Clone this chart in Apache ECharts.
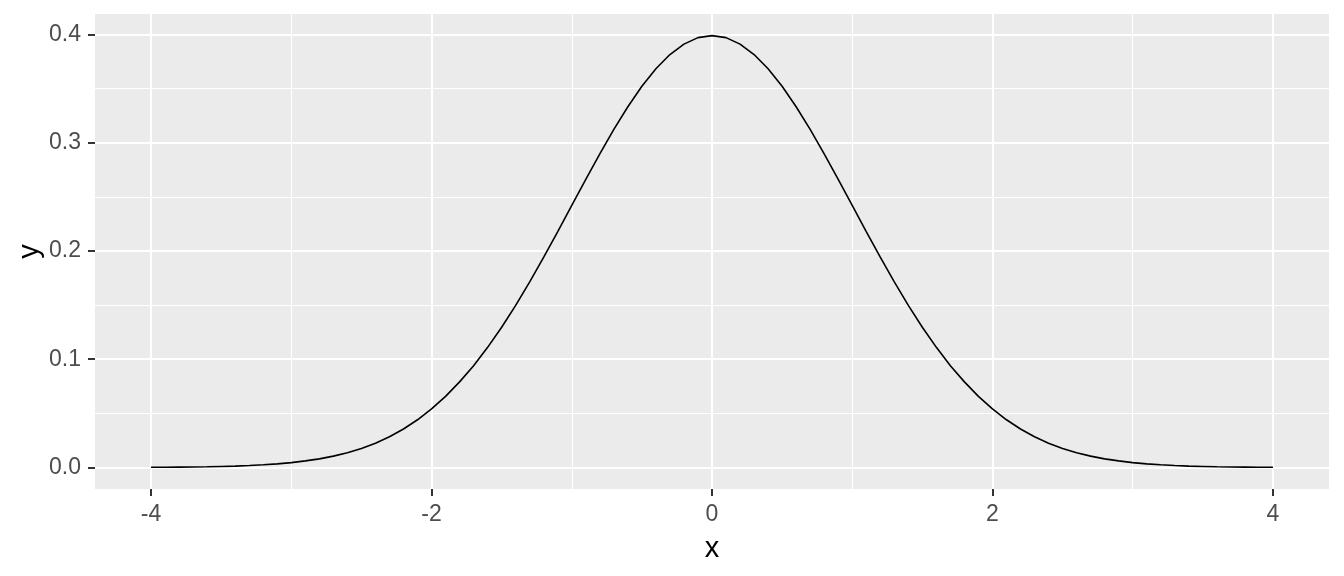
<!DOCTYPE html>
<html>
<head>
<meta charset="utf-8">
<script src="https://cdn.jsdelivr.net/npm/echarts@6/dist/echarts.min.js"></script>
<style>html,body{margin:0;padding:0;background:#fff;}#c{width:1344px;height:576px;}</style>
</head>
<body>
<div id="c"></div>
<script>
// Data (standard normal density curve)
const xValues = [-4.0,-3.9,-3.8,-3.7,-3.6,-3.5,-3.4,-3.3,-3.2,-3.1,-3.0,-2.9,-2.8,-2.7,-2.6,-2.5,-2.4,-2.3,-2.2,-2.1,-2.0,-1.9,-1.8,-1.7,-1.6,-1.5,-1.4,-1.3,-1.2,-1.1,-1.0,-0.9,-0.8,-0.7,-0.6,-0.5,-0.4,-0.3,-0.2,-0.1,0.0,0.1,0.2,0.3,0.4,0.5,0.6,0.7,0.8,0.9,1.0,1.1,1.2,1.3,1.4,1.5,1.6,1.7,1.8,1.9,2.0,2.1,2.2,2.3,2.4,2.5,2.6,2.7,2.8,2.9,3.0,3.1,3.2,3.3,3.4,3.5,3.6,3.7,3.8,3.9,4.0];
const yValues = [0.0001,0.0002,0.0003,0.0004,0.0006,0.0009,0.0012,0.0017,0.0024,0.0033,0.0044,0.0060,0.0079,0.0104,0.0136,0.0175,0.0224,0.0283,0.0355,0.0440,0.0540,0.0656,0.0790,0.0940,0.1109,0.1295,0.1497,0.1714,0.1942,0.2179,0.2420,0.2661,0.2897,0.3123,0.3332,0.3521,0.3683,0.3814,0.3910,0.3970,0.3989,0.3970,0.3910,0.3814,0.3683,0.3521,0.3332,0.3123,0.2897,0.2661,0.2420,0.2179,0.1942,0.1714,0.1497,0.1295,0.1109,0.0940,0.0790,0.0656,0.0540,0.0440,0.0355,0.0283,0.0224,0.0175,0.0136,0.0104,0.0079,0.0060,0.0044,0.0033,0.0024,0.0017,0.0012,0.0009,0.0006,0.0004,0.0003,0.0002,0.0001];
const xTicks = [-4, -2, 0, 2, 4];
const xMinor = [-3, -1, 1, 3];
const yTicks = [0, 0.1, 0.2, 0.3, 0.4];
const yMinor = [0.05, 0.15, 0.25, 0.35];

const xMin = -4.4, xMax = 4.4;
const yPad = 0.3989 * 0.05;
const yMin = -yPad, yMax = 0.3989 + yPad;

const font = '"Liberation Sans", Arial, sans-serif';
const chart = echarts.init(document.getElementById('c'), null, {renderer: 'canvas'});

function gridLines(vals, key, width) {
  return vals.map(v => ({[key]: v, lineStyle: {color: '#FFFFFF', width: width, type: 'solid'}}));
}

const hiddenLine = {show: true, onZero: false, lineStyle: {color: 'rgba(0,0,0,0)', width: 0}};

chart.setOption({
  animation: false,
  backgroundColor: '#FFFFFF',
  grid: {left: 95, right: 15, top: 14, bottom: 87, show: true, backgroundColor: '#EBEBEB', borderWidth: 0, containLabel: false},
  xAxis: {
    type: 'value', min: xMin, max: xMax,
    name: 'x', nameLocation: 'middle', nameGap: 45, nameMoveOverlap: false,
    nameTextStyle: {color: '#000000', fontSize: 29, fontFamily: font},
    axisLine: hiddenLine,
    axisTick: {show: true, customValues: xTicks, length: 7, lineStyle: {color: '#333333', width: 2}},
    axisLabel: {show: true, customValues: xTicks, color: '#4D4D4D', fontSize: 23, fontFamily: font, margin: 14,
      formatter: v => String(v)},
    splitLine: {show: false}, minorSplitLine: {show: false}
  },
  yAxis: {
    type: 'value', min: yMin, max: yMax,
    name: 'y', nameLocation: 'middle', nameGap: 51, nameRotate: 90, nameMoveOverlap: false,
    nameTextStyle: {color: '#000000', fontSize: 29, fontFamily: font},
    axisLine: hiddenLine,
    axisTick: {show: true, customValues: yTicks, length: 7, lineStyle: {color: '#333333', width: 2}},
    axisLabel: {show: true, customValues: yTicks, color: '#4D4D4D', fontSize: 23, fontFamily: font, margin: 14,
      formatter: v => v.toFixed(1)},
    splitLine: {show: false}, minorSplitLine: {show: false}
  },
  series: [
    {
      type: 'line', data: [], z: 1, silent: true,
      markLine: {
        z: 1, silent: true, symbol: 'none', label: {show: false}, animation: false,
        data: [].concat(
          gridLines(yMinor, 'yAxis', 1.1),
          gridLines(xMinor, 'xAxis', 1.1),
          gridLines(yTicks, 'yAxis', 2.1),
          gridLines(xTicks, 'xAxis', 2.1)
        )
      }
    },
    {
      type: 'line', z: 10, showSymbol: false, symbol: 'none', smooth: false,
      data: xValues.map((x, i) => [x, yValues[i]]),
      lineStyle: {color: '#000000', width: 1.6}
    }
  ]
});
</script>
</body>
</html>
